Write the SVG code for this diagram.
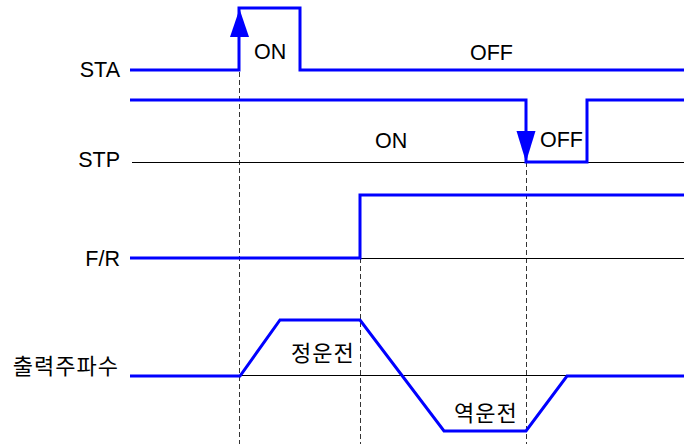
<svg xmlns="http://www.w3.org/2000/svg" width="684" height="444" viewBox="0 0 684 444">
<style>
.sig{fill:none;stroke:#0000ff;stroke-width:3;stroke-linejoin:miter}
.ref{fill:none;stroke:#000;stroke-width:1}
.dash{fill:none;stroke:#333;stroke-width:1;stroke-dasharray:5,3}
.arr{fill:#0000ff}
.lbl{font-family:"Liberation Sans",Arial,sans-serif;font-size:21.5px;fill:#000}
.kr{font-family:"Noto Sans CJK KR","Noto Sans",sans-serif;font-size:22px;letter-spacing:1px;fill:#000}
</style>
<rect width="684" height="444" fill="#fff"/>
<g id="connectors">
<line class="dash" x1="239.5" y1="72" x2="239.5" y2="444"/>
<line class="dash" x1="360.5" y1="258" x2="360.5" y2="444"/>
<line class="dash" x1="526.5" y1="162" x2="526.5" y2="444"/>
<line class="ref" x1="132" y1="162.5" x2="684" y2="162.5"/>
<line class="ref" x1="360" y1="258.5" x2="684" y2="258.5"/>
<line class="ref" x1="239" y1="375.5" x2="567" y2="375.5"/>
</g>
<g id="sta">
<text class="lbl" x="120" y="77" text-anchor="end">STA</text>
<polyline class="sig" points="130,70 239,70 239,8 300,8 300,70 684,70"/>
<polygon class="arr" points="239.5,9 230,37 249,37"/>
<text class="lbl" x="254" y="59">ON</text>
<text class="lbl" x="470" y="60">OFF</text>
</g>
<g id="stp">
<text class="lbl" x="120" y="167" text-anchor="end">STP</text>
<polyline class="sig" points="130,100 526,100 526,162 587,162 587,100 684,100"/>
<polygon class="arr" points="526,162 516.5,131 535.5,131"/>
<text class="lbl" x="375" y="148">ON</text>
<text class="lbl" x="540" y="147">OFF</text>
</g>
<g id="fr">
<text class="lbl" x="120" y="266" text-anchor="end">F/R</text>
<polyline class="sig" points="130,258 360,258 360,195 684,195"/>
</g>
<g id="freq">
<text class="kr" x="119" y="374" text-anchor="end">출력주파수</text>
<polyline class="sig" points="130,376 240,376 280,320 360,320 444,431 526,431 567,376 684,376"/>
<text class="kr" x="291" y="361">정운전</text>
<text class="kr" x="454" y="421">역운전</text>
</g>
</svg>
